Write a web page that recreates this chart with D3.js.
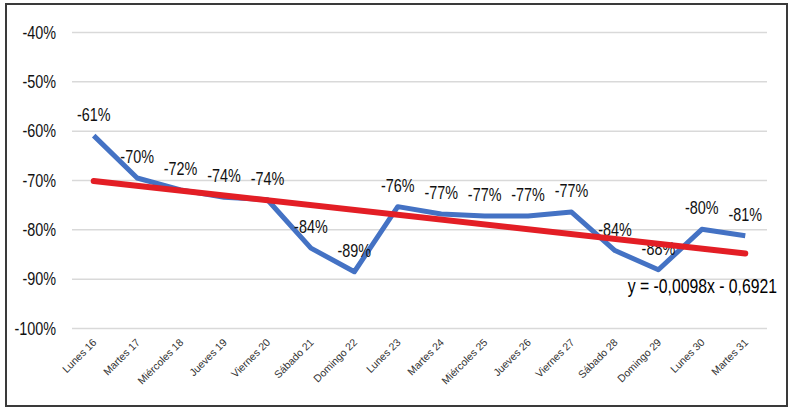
<!DOCTYPE html>
<html>
  <head>
    <meta charset="utf-8">
    <title>Variación diaria</title>
    <script src="https://cdn.jsdelivr.net/npm/d3@7"></script>
    <style>
      body { margin: 0; background: #fff; }
      svg text { font-family: "Liberation Sans", Arial, sans-serif; fill: #111; }
    </style>
  </head>
  <body>
    <script>
      // categories and values
      var days = ["Lunes 16", "Martes 17", "Miércoles 18", "Jueves 19", "Viernes 20",
                  "Sábado 21", "Domingo 22", "Lunes 23", "Martes 24", "Miércoles 25",
                  "Jueves 26", "Viernes 27", "Sábado 28", "Domingo 29", "Lunes 30", "Martes 31"];
      var values = [-0.61, -0.696, -0.72, -0.735, -0.74, -0.838, -0.886, -0.754,
                    -0.769, -0.773, -0.773, -0.765, -0.843, -0.882, -0.80, -0.813];
      var valueLabels = ["-61%", "-70%", "-72%", "-74%", "-74%", "-84%", "-89%", "-76%",
                         "-77%", "-77%", "-77%", "-77%", "-84%", "-88%", "-80%", "-81%"];
      var yTicks = [-1.0, -0.9, -0.8, -0.7, -0.6, -0.5, -0.4];
      // trend line ends (first and last day) and its equation
      var trendEnds = [-0.702, -0.849];
      var trendText = "y = -0,0098x - 0,6921";

      var w = 793, h = 410;
      var svg = d3.select("body").append("svg")
          .attr("width", w)
          .attr("height", h);

      // outer frame
      svg.append("rect")
          .attr("x", 6).attr("y", 4)
          .attr("width", 781).attr("height", 402)
          .attr("fill", "none")
          .attr("stroke", "#3a3a3a")
          .attr("stroke-width", 2);

      var x = d3.scalePoint().domain(days).range([72, 767]).padding(0.5);
      var y = d3.scaleLinear().domain([-1, -0.4]).range([328, 32]);

      // squeeze text horizontally like the original
      var sx = 0.8;

      // gridlines
      var yAxis = svg.append("g")
          .attr("transform", "translate(72,0)")
          .call(d3.axisLeft(y).tickValues(yTicks).tickSize(-695).tickFormat(function(d) { return ""; }));
      yAxis.select(".domain").remove();
      yAxis.selectAll(".tick line").attr("stroke", "#d9d9d9").attr("stroke-width", 1.5);

      // y labels
      svg.append("g").selectAll("text")
          .data(yTicks)
          .enter().append("text")
          .attr("transform", function(d) { return "translate(56," + (y(d) + 6.5) + ") scale(" + sx + ",1)"; })
          .attr("text-anchor", "end")
          .style("font-size", "18px")
          .text(function(d) { return Math.round(d * 100) + "%"; });

      // x labels, rotated
      svg.append("g").selectAll("text")
          .data(days)
          .enter().append("text")
          .attr("transform", function(d) { return "translate(" + (x(d) + 3.5) + ",343) rotate(-45)"; })
          .attr("text-anchor", "end")
          .style("font-size", "10.5px")
          .style("fill", "#333")
          .text(function(d) { return d; });

      // main series
      var line = d3.line()
          .x(function(d, i) { return x(days[i]); })
          .y(function(d) { return y(d); });

      svg.append("path")
          .datum(values)
          .attr("d", line)
          .attr("fill", "none")
          .attr("stroke", "#4472c4")
          .attr("stroke-width", 5)
          .attr("stroke-linejoin", "round");

      // data labels
      svg.append("g").selectAll("text")
          .data(values)
          .enter().append("text")
          .attr("transform", function(d, i) { return "translate(" + x(days[i]) + "," + (y(d) - 15) + ") scale(" + sx + ",1)"; })
          .attr("text-anchor", "middle")
          .style("font-size", "18px")
          .text(function(d, i) { return valueLabels[i]; });

      // trend line
      svg.append("line")
          .attr("x1", x(days[0])).attr("y1", y(trendEnds[0]))
          .attr("x2", x(days[days.length - 1])).attr("y2", y(trendEnds[1]))
          .attr("stroke", "#e31e25")
          .attr("stroke-width", 6)
          .attr("stroke-linecap", "round");

      svg.append("text")
          .attr("transform", "translate(777,293) scale(" + sx + ",1)")
          .attr("text-anchor", "end")
          .style("font-size", "19.7px")
          .style("fill", "#000")
          .text(trendText);
    </script>
  </body>
</html>
